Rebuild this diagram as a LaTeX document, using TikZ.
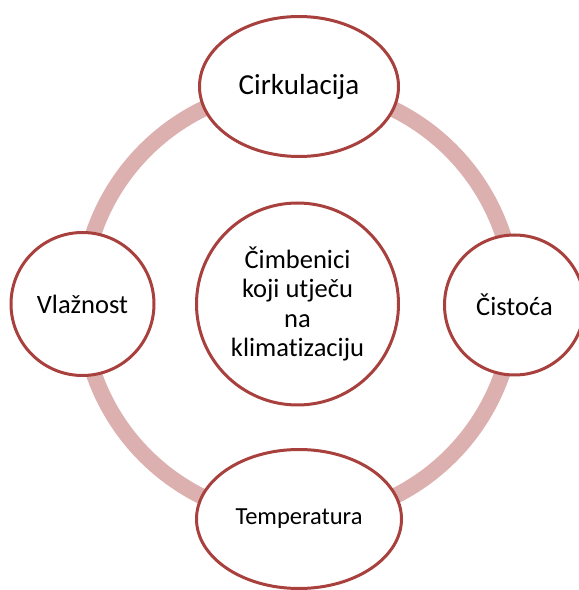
\documentclass[tikz,border=0pt]{standalone}
\usepackage{fontspec}
\setmainfont{Carlito}[Ligatures=NoCommon]
\usepackage{tikz}
\usetikzlibrary{shapes.geometric}
\usetikzlibrary{positioning}
\definecolor{ringpink}{RGB}{219,176,175}
\definecolor{edgered}{RGB}{168,64,61}
\tikzset{node distance=2.5cm, % Base distance, nodes below are placed at coordinates
    every node/.style={ % Common look of all factor nodes
    line width=3pt,
    draw=edgered,
    fill=white,
    inner sep=0pt,
    align=center}}

\begin{document}
\begin{tikzpicture}[
            x=1pt, y=1pt,
            factor/.style={ellipse, minimum width=199pt, minimum height=140pt, font=\fontsize{29}{33}\selectfont},
            side/.style={circle, font=\fontsize{26.5}{30}\selectfont},
            hub/.style={circle, minimum size=202pt, font=\fontsize{26.5}{29.5}\selectfont},
            ring/.style={line width=16pt, draw=ringpink}
        ]

        \useasboundingbox (0,0) rectangle (579,590);

        % Ring behind the factors
        \coordinate (ringmid) at (298,287);
        \draw[ring] (ringmid) circle (216);

        % Central node
        \node[hub] (core) at (297.5,286) {Čimbenici\\koji utječu\\na\\klimatizaciju};

        % Factors round the ring
        \node[factor] (circ) at (299,503.5) {Cirkulacija};
        \node[side, minimum size=143pt] (hum) at (82.5,286) {Vlažnost};
        \node[side, minimum size=140pt] (clean) at (514.5,285) {Čistoća};
        \node[factor, minimum width=205pt, minimum height=139pt, font=\fontsize{24.5}{28}\selectfont] (temp) at (299,71) {Temperatura};

    \end{tikzpicture}
\end{document}
